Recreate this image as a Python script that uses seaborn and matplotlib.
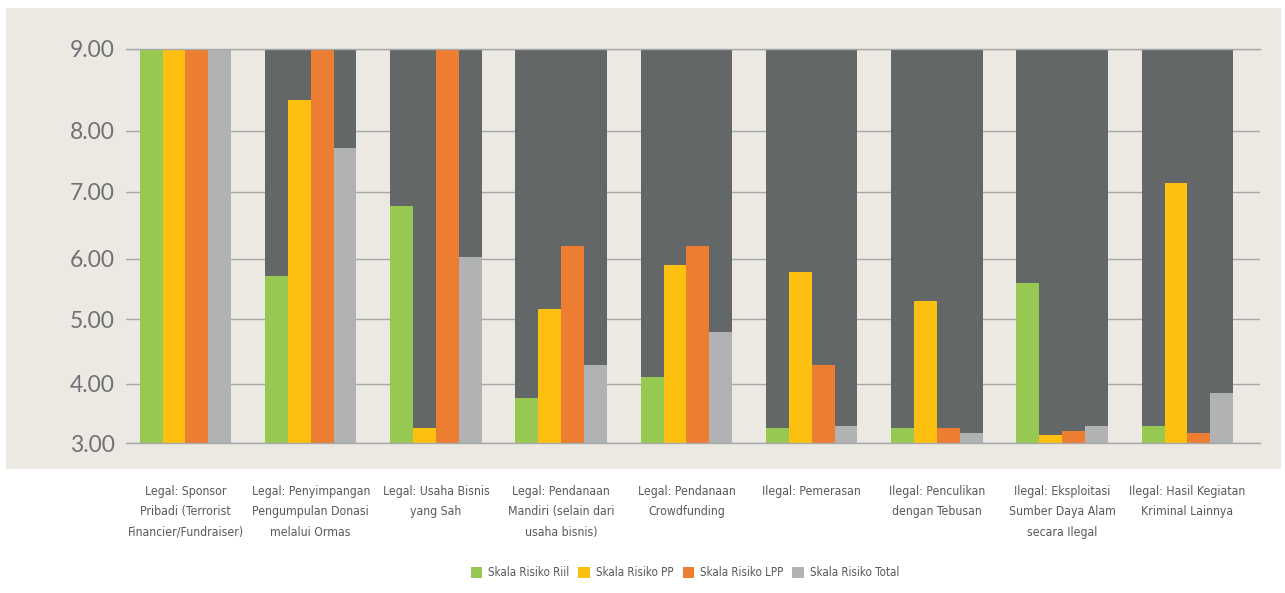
import numpy as np
import pandas as pd
import matplotlib
matplotlib.use("Agg")
import matplotlib.pyplot as plt
from matplotlib.patches import Rectangle, Patch
import seaborn as sns

# ---------------- data ----------------
kategori = [
    "Legal: Sponsor\nPribadi (Terrorist\nFinancier/Fundraiser)",
    "Legal: Penyimpangan\nPengumpulan Donasi\nmelalui Ormas",
    "Legal: Usaha Bisnis\nyang Sah",
    "Legal: Pendanaan\nMandiri (selain dari\nusaha bisnis)",
    "Legal: Pendanaan\nCrowdfunding",
    "Ilegal: Pemerasan",
    "Ilegal: Penculikan\ndengan Tebusan",
    "Ilegal: Eksploitasi\nSumber Daya Alam\nsecara Ilegal",
    "Ilegal: Hasil Kegiatan\nKriminal Lainnya",
]
seri = ["Skala Risiko Riil", "Skala Risiko PP", "Skala Risiko LPP", "Skala Risiko Total"]
riil = [9.00, 5.71, 6.79, 3.76, 4.11, 3.25, 3.25, 5.60, 3.29]
pp = [9.00, 8.37, 3.25, 5.17, 5.90, 5.78, 5.31, 3.14, 7.15]
lpp = [9.00, 9.00, 9.00, 6.19, 6.19, 4.29, 3.25, 3.20, 3.17]
total = [9.00, 7.72, 6.02, 4.29, 4.81, 3.29, 3.18, 3.29, 3.85]
latar = [9.00, 9.00, 9.00, 9.00, 9.00, 9.00, 9.00, 9.00, 9.00]  # dark backdrop columns
y_ticks = [3, 4, 5, 6, 7, 8, 9]

# ---------------- styling ----------------
warna = {
    "Skala Risiko Riil": "#97C952",
    "Skala Risiko PP": "#FDC010",
    "Skala Risiko LPP": "#ED7D31",
    "Skala Risiko Total": "#B1B2B4",
}
DARK = "#636768"
BEIGE = "#ECE9E2"
GRID = "#A7A8AA"
TXT = "#58595B"

sns.set_theme(style="white")
plt.rcParams["font.family"] = ["DejaVu Sans"]

df = pd.DataFrame({
    "kategori": np.repeat(kategori, 4).tolist(),
    "seri": seri * len(kategori),
    "nilai": np.column_stack([riil, pp, lpp, total]).ravel(),
})

fig = plt.figure(figsize=(12.85, 5.93), dpi=100)
fig.patch.set_facecolor("white")
fig.patches.append(Rectangle((6 / 1285, 1 - 469 / 593), (1281 - 6) / 1285, (469 - 8) / 593,
                             transform=fig.transFigure, facecolor=BEIGE, edgecolor="none", zorder=-5))
ax = fig.add_axes([126 / 1285, 1 - 443.3 / 593, (1260 - 126) / 1285, (443.3 - 48.7) / 593])
ax.set_zorder(2)
ax.set_facecolor(BEIGE)

# backdrop columns
sns.barplot(x=kategori, y=latar, order=kategori, color=DARK, saturation=1,
            width=0.73, linewidth=0, ax=ax)
# data bars
sns.barplot(data=df, x="kategori", y="nilai", hue="seri", order=kategori, hue_order=seri,
            palette=warna, saturation=1, width=0.73, linewidth=0, legend=False, ax=ax)

# uneven gridline spacing as in the reference (piecewise scale)
tv = np.array(y_ticks, float)
pos = np.array([0.0, 59.6, 124.0, 184.6, 251.3, 312.6, 394.6])
s0 = (pos[1] - pos[0]) / (tv[1] - tv[0])
s1 = (pos[-1] - pos[-2]) / (tv[-1] - tv[-2])


def fwd(v):
    v = np.asarray(v, float)
    out = np.interp(v, tv, pos)
    out = np.where(v < tv[0], pos[0] + (v - tv[0]) * s0, out)
    out = np.where(v > tv[-1], pos[-1] + (v - tv[-1]) * s1, out)
    return out


def inv(p):
    p = np.asarray(p, float)
    out = np.interp(p, pos, tv)
    out = np.where(p < pos[0], tv[0] + (p - pos[0]) / s0, out)
    out = np.where(p > pos[-1], tv[-1] + (p - pos[-1]) / s1, out)
    return out


ax.set_yscale("function", functions=(fwd, inv))
ax.set_ylim(3, 9)
ax.set_xlim(-0.475, 8.58)
ax.set_yticks(y_ticks)
ax.set_yticklabels([f"{t:.2f}" for t in y_ticks], fontfamily=["Lato", "DejaVu Sans"],
                   fontweight="normal", fontsize=16.5, color="#707174")
ax.yaxis.grid(True, color=GRID, linewidth=1.0)
ax.set_axisbelow(True)
ax.tick_params(axis="y", length=0, pad=8)
ax.tick_params(axis="x", length=0, pad=30)
for sp in ["left", "right"]:
    ax.spines[sp].set_visible(False)
for sp in ["top", "bottom"]:
    ax.spines[sp].set_color(GRID)
    ax.spines[sp].set_linewidth(1.0)
ax.set_xlabel("")
ax.set_ylabel("")
ax.set_xticks(range(len(kategori)))
ax.set_xticklabels(kategori, fontfamily=["DejaVu Sans"], fontstretch="condensed",
                   fontsize=8.8, color=TXT, linespacing=1.75, va="top", ha="center")

handles = [Patch(facecolor=warna[s], edgecolor="none") for s in seri]
fig.legend(handles, seri, loc="center", bbox_to_anchor=(0.533, 0.034), ncol=4, frameon=False,
           handlelength=1.0, handleheight=1.0, handletextpad=0.5, columnspacing=0.8,
           prop={"family": ["DejaVu Sans"], "stretch": "condensed", "size": 8.3},
           labelcolor=TXT)

fig.savefig("out.png", dpi=100, facecolor="white")
